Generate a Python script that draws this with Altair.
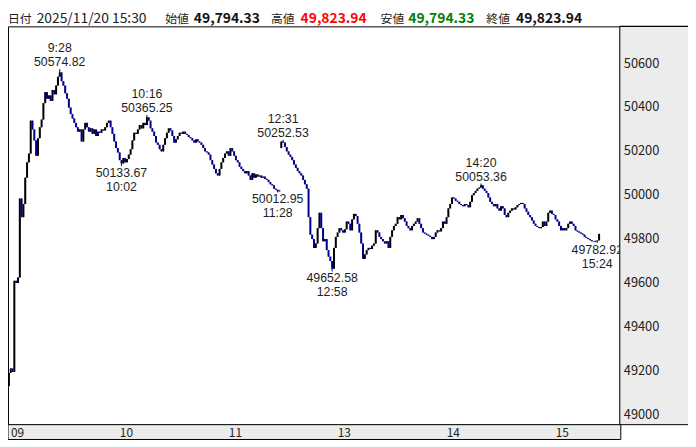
import altair as alt
import pandas as pd
import numpy as np

DATE = "2025/11/20"

MORNING_OPEN = 49130.0
MORNING_CLOSES = [
    49190, 49210, 49195, 49610, 49600, 49625, 49985, 49900, 49960, 50080,
    50150, 50190, 50340, 50300, 50250, 50180, 50260, 50310, 50345, 50420,
    50470, 50440, 50455, 50430, 50480, 50460, 50500, 50540, 50560, 50520,
    50500, 50465, 50440, 50400, 50370, 50350, 50330, 50310, 50290, 50300,
    50245, 50300, 50330, 50310, 50290, 50305, 50280, 50300, 50270, 50290,
    50285, 50300, 50295, 50310, 50330, 50340, 50310, 50280, 50245, 50215,
    50195, 50160, 50145, 50170, 50150, 50165, 50185, 50210, 50250, 50285,
    50280, 50300, 50320, 50305, 50330, 50320, 50355, 50340, 50305, 50290,
    50270, 50240, 50230, 50210, 50200, 50230, 50260, 50285, 50305, 50295,
    50270, 50240, 50255, 50270, 50285, 50280, 50290, 50280, 50275, 50265,
    50260, 50250, 50240, 50255, 50245, 50240, 50230, 50215, 50200, 50195,
    50185, 50160, 50140, 50120, 50100, 50090, 50120, 50150, 50170, 50190,
    50200, 50180, 50215, 50200, 50180, 50160, 50150, 50130, 50120, 50110,
    50100, 50110, 50090, 50070, 50100, 50080, 50095, 50085, 50090, 50080,
    50085, 50075, 50070, 50060, 50050, 50045, 50030, 50025, 50018, 50022,
]

AFTERNOON_OPEN = 50215.0
AFTERNOON_CLOSES = [
    50245, 50240, 50220, 50200, 50185, 50175, 50160, 50140, 50125, 50110,
    50100, 50090, 50070, 50050, 50030, 49900, 49820, 49800, 49760, 49780,
    49850, 49920, 49850, 49790, 49800, 49750, 49720, 49700, 49665, 49760,
    49810, 49830, 49850, 49840, 49830, 49845, 49880, 49870, 49840, 49890,
    49915, 49905, 49870, 49830, 49780, 49710, 49730, 49750, 49760, 49755,
    49770, 49780, 49840, 49830, 49810, 49800, 49790, 49780, 49790, 49760,
    49810, 49840, 49860, 49870, 49900, 49890, 49910, 49895, 49880, 49860,
    49850, 49840, 49860, 49870, 49880, 49895, 49870, 49850, 49830, 49825,
    49820, 49815, 49810, 49800, 49810, 49830, 49840, 49835, 49850, 49880,
    49870, 49900, 49940, 49960, 49990, 49985, 49975, 49970, 49960, 49955,
    49950, 49960, 49955, 49945, 49970, 50000, 50010, 50020, 50030, 50035,
    50045, 50030, 50020, 50010, 49990, 49970, 49960, 49950, 49960, 49940,
    49930, 49950, 49940, 49910, 49900, 49920, 49930, 49940, 49935, 49945,
    49955, 49960, 49965, 49960, 49940, 49925, 49910, 49900, 49885, 49870,
    49860, 49855, 49850, 49855, 49880, 49860, 49880, 49920, 49930, 49915,
    49910, 49890, 49880, 49860, 49840, 49850, 49840, 49850, 49870, 49880,
    49870, 49860, 49840, 49835, 49830, 49825, 49820, 49810, 49805, 49800,
    49795, 49790, 49788, 49792, 49794.33,
]

LAST_TIME = "15:30"
LAST_OPEN = 49794.33
LAST_HIGH = 49823.94
LAST_LOW = 49794.33
LAST_CLOSE = 49823.94

ANNOT_TIMES = ["9:28", "10:02", "10:16", "11:28", "12:31", "12:58", "14:20", "15:24"]
ANNOT_VALUES = [50574.82, 50133.67, 50365.25, 50012.95, 50252.53, 49652.58, 50053.36, 49782.92]
ANNOT_SIDES = ["high", "low", "high", "low", "high", "low", "high", "low"]

Y_TICKS = [49000, 49200, 49400, 49600, 49800, 50000, 50200, 50400, 50600]
X_TICK_TIMES = ["9:00", "10:00", "11:00", "13:00", "14:00", "15:00"]
X_TICK_LABELS = ["09", "10", "11", "13", "14", "15"]


def fmt_time(m):
    return f"{m // 60}:{m % 60:02d}"


morning_times = [fmt_time(m) for m in range(9 * 60, 11 * 60 + 30)]
afternoon_times = [fmt_time(m) for m in range(12 * 60 + 30, 15 * 60 + 25)]

rows = []


def add_session(times, first_open, closes):
    prev = first_open
    for t, c in zip(times, closes):
        rows.append({"time": t, "open": float(prev), "close": float(c)})
        prev = c


add_session(morning_times, MORNING_OPEN, MORNING_CLOSES)
add_session(afternoon_times, AFTERNOON_OPEN, AFTERNOON_CLOSES)
rows.append({"time": LAST_TIME, "open": LAST_OPEN, "close": LAST_CLOSE})

df = pd.DataFrame(rows)
df["i"] = np.arange(len(df))
df["hi"] = df[["open", "close"]].max(axis=1)
df["lo"] = df[["open", "close"]].min(axis=1)
df["high"] = df["hi"]
df["low"] = df["lo"]
last = df.index[-1]
df.loc[last, "high"] = LAST_HIGH
df.loc[last, "low"] = LAST_LOW
for t, v, s in zip(ANNOT_TIMES, ANNOT_VALUES, ANNOT_SIDES):
    idx = df.index[df["time"] == t][0]
    if s == "high":
        df.loc[idx, "high"] = max(df.loc[idx, "high"], v)
    else:
        df.loc[idx, "low"] = min(df.loc[idx, "low"], v)
df["dir"] = np.where(df["close"] >= df["open"], "up", "down")

ann = pd.DataFrame({"time": ANNOT_TIMES, "value": ANNOT_VALUES, "side": ANNOT_SIDES})
ann["i"] = [int(df.index[df["time"] == t][0]) for t in ANNOT_TIMES]
ann["vtxt"] = [f"{v:.2f}" for v in ANNOT_VALUES]

xt = pd.DataFrame({"label": X_TICK_LABELS,
                   "i": [int(df.index[df["time"] == t][0]) for t in X_TICK_TIMES]})
yt = pd.DataFrame({"tick": Y_TICKS, "label": [str(v) for v in Y_TICKS]})

FONT = "Noto Sans CJK JP"
ANN_FONT = "Liberation Sans"
W, H = 619, 403
xs = alt.Scale(domain=[-0.5, 336.4], nice=False, zero=False)
ys = alt.Scale(domain=[48954, 50770], nice=False, zero=False)
GRID = "#dcdcdc"

color = alt.Color("dir:N", scale=alt.Scale(domain=["up", "down"], range=["#000000", "#00008b"]), legend=None)

one = pd.DataFrame({"k": [0]})

right_panel = alt.Chart(one).mark_rect(fill="#ececec", stroke="#000000", strokeWidth=1).encode(
    x=alt.value(W), x2=alt.value(W + 72), y=alt.value(0), y2=alt.value(H))
bottom_strip = alt.Chart(one).mark_rect(fill="#ececec", stroke="#000000", strokeWidth=1).encode(
    x=alt.value(0), x2=alt.value(W + 1), y=alt.value(H), y2=alt.value(H + 15))

wick = alt.Chart(df).mark_rule(strokeWidth=1).encode(
    x=alt.X("i:Q", scale=xs, axis=alt.Axis(values=xt["i"].tolist(), grid=True, labels=False, ticks=False,
                                           domain=False, title=None, gridColor=GRID, gridWidth=1.5)),
    y=alt.Y("low:Q", scale=ys, axis=alt.Axis(values=Y_TICKS, grid=True, labels=False, ticks=False,
                                             domain=False, title=None, gridColor=GRID, gridWidth=1.5)),
    y2="high:Q",
    color=color,
)
body = alt.Chart(df).mark_rule(strokeWidth=2).encode(
    x=alt.X("i:Q", scale=xs, axis=None),
    y=alt.Y("lo:Q", scale=ys, axis=None),
    y2="hi:Q",
    color=color,
)


def ann_layer(side, field, dy):
    return alt.Chart(ann).transform_filter(alt.datum.side == side).mark_text(
        font=ANN_FONT, fontSize=12.5, color="#1e1e1e", align="center", baseline="middle", dy=dy, clip=True
    ).encode(
        x=alt.X("i:Q", scale=xs, axis=None),
        y=alt.Y("value:Q", scale=ys, axis=None),
        text=f"{field}:N",
    )


ann_layers = [
    ann_layer("high", "vtxt", -7), ann_layer("high", "time", -21),
    ann_layer("low", "vtxt", 7), ann_layer("low", "time", 21),
]

ylabels = alt.Chart(yt).mark_text(font=FONT, fontSize=13, color="#222222", align="left",
                                   baseline="middle").encode(
    x=alt.value(W + 4), y=alt.Y("tick:Q", scale=ys, axis=None), text="label:N")

xlabels = alt.Chart(xt).mark_text(font=FONT, fontSize=12, color="#222222", align="left",
                                   baseline="middle", dx=2).encode(
    x=alt.X("i:Q", scale=xs, axis=None), y=alt.value(H + 8), text="label:N")

top_line = alt.Chart(one).mark_rule(color="#000000", strokeWidth=1).encode(
    x=alt.value(W), x2=alt.value(W + 72), y=alt.value(0))


def htext(txt, x, color="#222222", bold=False, size=14):
    return alt.Chart(one).mark_text(font=FONT, fontSize=size, color=color, align="left",
                                    baseline="alphabetic", fontWeight="bold" if bold else "normal").encode(
        x=alt.value(x), y=alt.value(-3), text=alt.value(txt))


def money(v):
    return f"{v:,.2f}"


header = [
    htext("日付", 0, size=12),
    htext(f"{DATE} {LAST_TIME}", 29),
    htext("始値", 159, size=12),
    htext(money(LAST_OPEN), 188, color="#111111", bold=True),
    htext("高値", 266, size=12),
    htext(money(LAST_HIGH), 296, color="#ff0000", bold=True),
    htext("安値", 377, size=12),
    htext(money(LAST_LOW), 405, color="#008000", bold=True),
    htext("終値", 484, size=12),
    htext(money(LAST_CLOSE), 514, color="#111111", bold=True),
]

chart = alt.layer(
    right_panel, bottom_strip, wick, body, *ann_layers, ylabels, xlabels, top_line, *header
).properties(
    width=W, height=H,
    autosize=alt.AutoSizeParams(type="none"),
    padding={"left": 0, "top": 16, "right": 69, "bottom": 18},
).configure_view(stroke="#000000", strokeWidth=1, fill="#ffffff")

chart.save("out.html", embed_options={"renderer": "svg", "actions": False})
